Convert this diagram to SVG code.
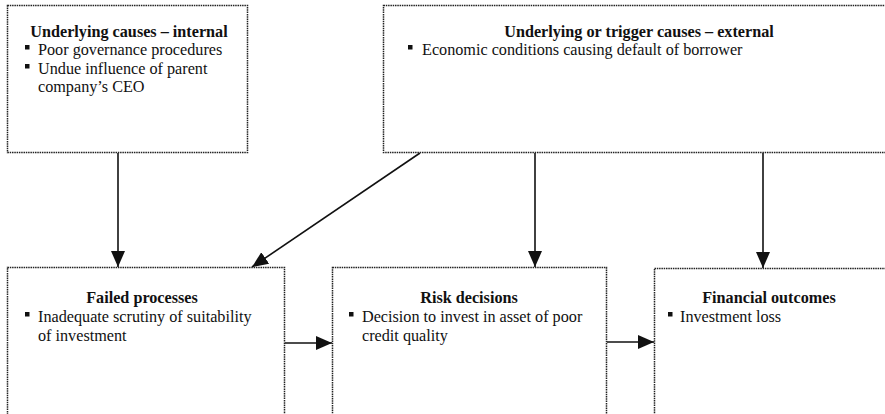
<svg xmlns="http://www.w3.org/2000/svg" width="885" height="414" viewBox="0 0 885 414">
<defs>
<style>
.box{fill:#fff;stroke:#222;stroke-width:1.5;stroke-dasharray:1.5 0.8}
.t{font-family:"Liberation Serif","Times New Roman",serif;font-size:16.2px;fill:#111}
.h{font-weight:bold;text-anchor:middle}
.b{fill:#111}
.c{stroke:#111;stroke-width:1.6;fill:none;marker-end:url(#ah)}
</style>
<marker id="ah" viewBox="0 0 16 14" refX="16" refY="7" markerWidth="16" markerHeight="14" markerUnits="userSpaceOnUse" orient="auto">
<path d="M0,0 L16,7 L0,14 z" fill="#111"/>
</marker>
</defs>
<rect width="885" height="414" fill="#fff"/>
<g id="connectors">
<line class="c" x1="118" y1="153" x2="118" y2="267"/>
<line class="c" x1="420" y1="153" x2="252" y2="267"/>
<line class="c" x1="535" y1="153" x2="535" y2="267"/>
<line class="c" x1="763" y1="153" x2="763" y2="268"/>
<line class="c" x1="285" y1="343" x2="332" y2="343"/>
<line class="c" x1="607" y1="342" x2="654" y2="342"/>
</g>
<g id="internal">
<rect class="box" x="7.5" y="5.5" width="240" height="147"/>
<text class="t h" x="129" y="37">Underlying causes – internal</text>
<rect class="b" x="25" y="45" width="4.5" height="4.5"/>
<text class="t" x="38" y="55">Poor governance procedures</text>
<rect class="b" x="25" y="64" width="4.5" height="4.5"/>
<text class="t" x="38" y="73.5">Undue influence of parent</text>
<text class="t" x="38" y="92">company’s CEO</text>
</g>
<g id="external">
<rect class="box" x="383.5" y="5.5" width="510" height="147"/>
<text class="t h" x="639" y="37">Underlying or trigger causes – external</text>
<rect class="b" x="408" y="45" width="4.5" height="4.5"/>
<text class="t" x="422" y="55">Economic conditions causing default of borrower</text>
</g>
<g id="failed">
<rect class="box" x="7.5" y="267.5" width="277" height="160"/>
<text class="t h" x="142" y="303">Failed processes</text>
<rect class="b" x="25" y="312" width="4.5" height="4.5"/>
<text class="t" x="38" y="322">Inadequate scrutiny of suitability</text>
<text class="t" x="38" y="341">of investment</text>
</g>
<g id="risk">
<rect class="box" x="332.5" y="267.5" width="274" height="160"/>
<text class="t h" x="469" y="303">Risk decisions</text>
<rect class="b" x="349" y="312" width="4.5" height="4.5"/>
<text class="t" x="362" y="322">Decision to invest in asset of poor</text>
<text class="t" x="362" y="341">credit quality</text>
</g>
<g id="outcomes">
<rect class="box" x="654.5" y="268.5" width="240" height="160"/>
<text class="t h" x="769" y="303">Financial outcomes</text>
<rect class="b" x="668" y="312" width="4.5" height="4.5"/>
<text class="t" x="680" y="322">Investment loss</text>
</g>
</svg>
